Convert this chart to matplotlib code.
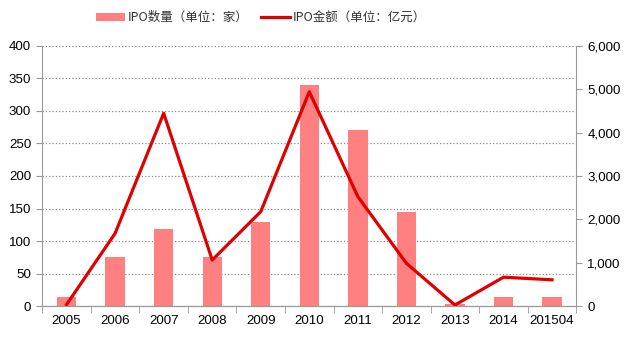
import matplotlib.pyplot as plt
import numpy as np

plt.rcParams['font.family'] = ['Liberation Sans', 'Noto Sans CJK SC', 'DejaVu Sans']

# IPO count (bars, left axis) and IPO amount (line, right axis)
years = ['2005', '2006', '2007', '2008', '2009', '2010', '2011', '2012', '2013', '2014', '2015Q4']
ipo_count = [15, 76, 118, 75, 129, 340, 271, 145, 4, 15, 15]
ipo_amount = [40, 1680, 4445, 1065, 2180, 4940, 2525, 990, 30, 670, 610]
tick_labels = ['2005', '2006', '2007', '2008', '2009', '2010', '2011', '2012', '2013', '2014', '201504']

fig = plt.figure(figsize=(6.38, 3.42), dpi=100)
ax = fig.add_axes([0.0663, 0.1044, 0.837, 0.762])
x = np.arange(len(years))

bars = ax.bar(x, ipo_count, width=0.4, color='#FF8080', zorder=2, label='IPO数量（单位：家）')
ax.set_ylim(0, 400)
ax.set_yticks(range(0, 401, 50))
ax.set_xlim(-0.5, len(years) - 0.5)
ax.set_xticks(x)
ax.set_xticklabels(tick_labels)
ax.set_xticks(np.arange(-0.5, len(years), 1), minor=True)
ax.tick_params(axis='x', which='major', length=0, pad=6, labelsize=9.6)
ax.tick_params(axis='x', which='minor', length=5, color='#999999', direction='out')
ax.tick_params(axis='y', length=4, color='#999999', labelsize=9.6, pad=4)
ax.grid(axis='y', linestyle=':', color='#888888', linewidth=0.9, zorder=0)

ax2 = ax.twinx()
line, = ax2.plot(x, ipo_amount, color='#E00000', linewidth=2.3, zorder=3, label='IPO金额（单位：亿元）')
ax2.set_ylim(0, 6000)
ax2.set_yticks(range(0, 6001, 1000))
ax2.set_yticklabels([f'{v:,}' for v in range(0, 6001, 1000)])
ax2.tick_params(axis='y', length=4, color='#999999', labelsize=9.6, pad=4)

for a in (ax, ax2):
    a.spines['top'].set_visible(False)
    a.spines['left'].set_color('#999999')
    a.spines['right'].set_color('#999999')
    a.spines['bottom'].set_color('#999999')
ax2.spines['left'].set_visible(False)
ax.spines['right'].set_visible(False)

leg = fig.legend(handles=[bars, line], loc='center', ncol=2, frameon=False,
                 bbox_to_anchor=(0.409, 0.948), handlelength=2.3,
                 handleheight=0.6, columnspacing=1.0, handletextpad=0.25,
                 prop={'family': ['Noto Sans CJK SC'], 'size': 9})
for t in leg.get_texts():
    t.set_color('#333333')

fig.savefig('out.png', dpi=100)
